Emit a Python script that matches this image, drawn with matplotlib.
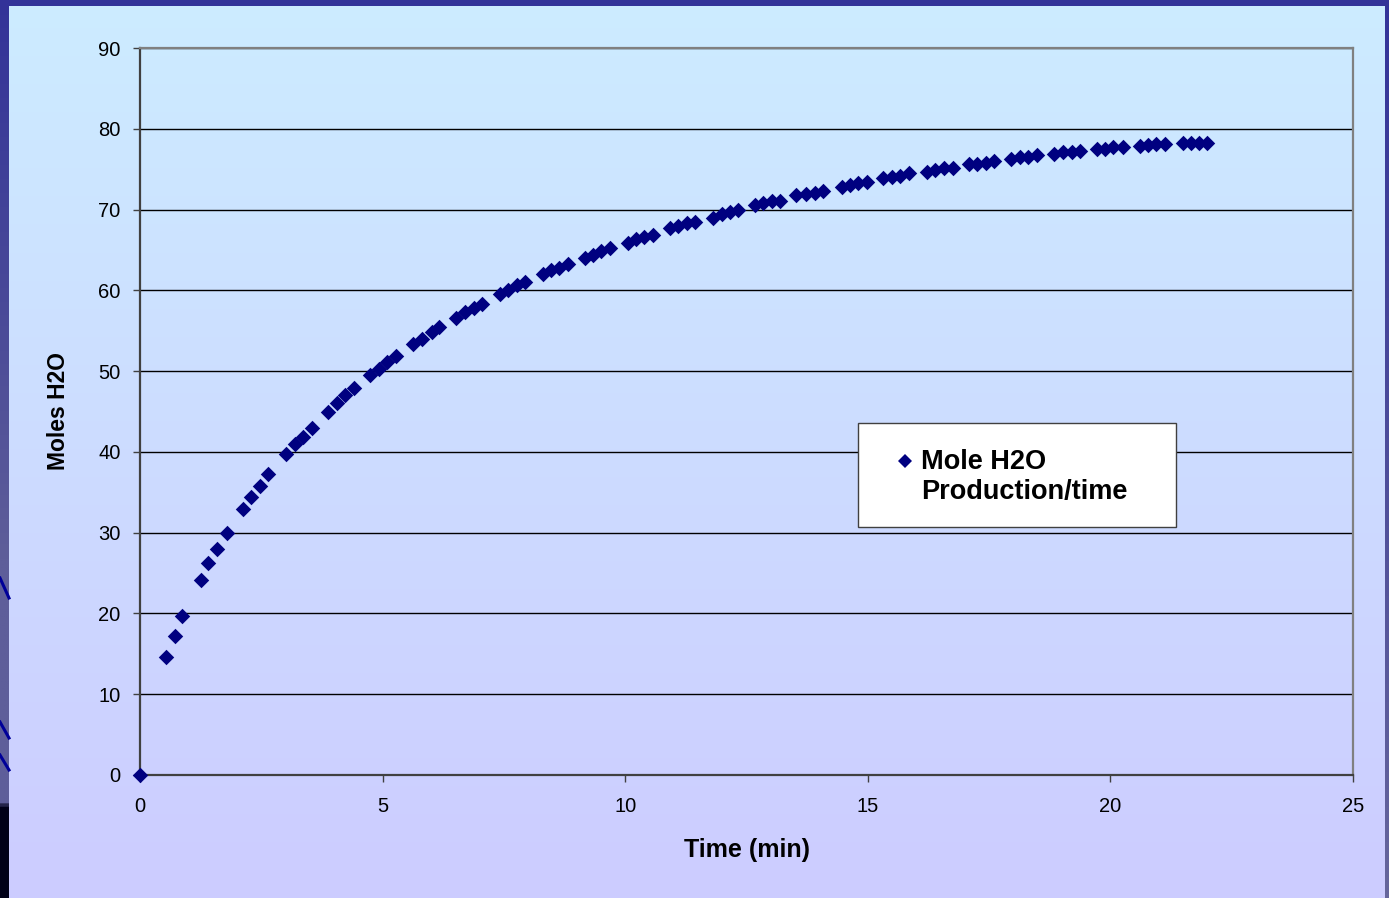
import numpy as np
import matplotlib.pyplot as plt
from matplotlib.colors import LinearSegmentedColormap
from matplotlib.lines import Line2D
from matplotlib.patches import Rectangle

plt.rcParams['font.family'] = ['Liberation Sans', 'DejaVu Sans']

# measured water production
time_min = [0.0, 0.53, 0.72, 0.87,
            1.25, 1.40, 1.59, 1.79,
            2.13, 2.28, 2.47, 2.64,
            3.00, 3.19, 3.35, 3.54,
            3.88, 4.07, 4.22, 4.41,
            4.75, 4.93, 5.10, 5.28,
            5.62, 5.82, 6.01, 6.17,
            6.51, 6.70, 6.89, 7.04,
            7.41, 7.58, 7.76, 7.93,
            8.31, 8.47, 8.64, 8.83,
            9.17, 9.33, 9.50, 9.69,
            10.05, 10.22, 10.39, 10.58,
            10.92, 11.09, 11.27, 11.44,
            11.80, 11.99, 12.15, 12.33,
            12.67, 12.85, 13.03, 13.20,
            13.53, 13.72, 13.91, 14.08,
            14.46, 14.63, 14.80, 14.98,
            15.32, 15.49, 15.66, 15.85,
            16.21, 16.38, 16.57, 16.75,
            17.09, 17.26, 17.43, 17.61,
            17.96, 18.13, 18.31, 18.49,
            18.84, 19.03, 19.20, 19.37,
            19.72, 19.89, 20.06, 20.25,
            20.60, 20.78, 20.95, 21.12,
            21.49, 21.66, 21.83, 22.00]
moles_h2o = [0.0, 14.6, 17.2, 19.7,
             24.1, 26.2, 28.0, 29.9,
             32.9, 34.4, 35.8, 37.3,
             39.7, 41.0, 41.9, 42.9,
             45.0, 46.0, 47.0, 47.9,
             49.5, 50.3, 51.1, 51.9,
             53.4, 54.0, 54.8, 55.4,
             56.6, 57.3, 57.8, 58.3,
             59.5, 60.0, 60.6, 61.0,
             62.0, 62.5, 62.8, 63.2,
             64.0, 64.4, 64.9, 65.3,
             65.8, 66.3, 66.6, 66.8,
             67.7, 68.0, 68.3, 68.5,
             69.0, 69.4, 69.7, 69.9,
             70.6, 70.8, 71.0, 71.1,
             71.8, 71.9, 72.1, 72.3,
             72.75, 73.0, 73.25, 73.45,
             73.9, 74.07, 74.2, 74.5,
             74.7, 74.9, 75.1, 75.2,
             75.6, 75.7, 75.8, 76.0,
             76.3, 76.5, 76.5, 76.7,
             76.9, 77.1, 77.1, 77.3,
             77.5, 77.5, 77.7, 77.7,
             77.9, 78.0, 78.1, 78.1,
             78.3, 78.3, 78.3, 78.3]
series_name = 'Mole H2O\nProduction/time'
x_ticks = [0, 5, 10, 15, 20, 25]
y_ticks = [0, 10, 20, 30, 40, 50, 60, 70, 80, 90]

W, H = 1389, 898
fig = plt.figure(figsize=(W / 100, H / 100), dpi=100)

# slide background: vertical cyan -> lavender gradient
bg = fig.add_axes([0, 0, 1, 1], zorder=-10)
grad = LinearSegmentedColormap.from_list('bg', ['#ccecff', '#ccccff'])
bg.imshow(np.linspace(0, 1, 256).reshape(-1, 1), cmap=grad, aspect='auto',
          extent=[0, 1, 0, 1], origin='upper')
bg.set_xlim(0, 1)
bg.set_ylim(0, 1)
bg.axis('off')

# dark slide border on the left, top and right
edge = LinearSegmentedColormap.from_list(
    'edge', [(0, '#333399'), (0.35, '#4a4a98'), (0.62, '#5e5e9a'),
             (0.895, '#5e5e9a'), (0.9, '#000018'), (1, '#000018')])
left = fig.add_axes([0, 0, 9 / W, 1], zorder=-5)
left.imshow(np.linspace(0, 1, 512).reshape(-1, 1), cmap=edge, aspect='auto',
            extent=[0, 1, 0, 1], origin='upper')
left.axis('off')
right_edge = LinearSegmentedColormap.from_list('redge', ['#333399', '#66669c'])
right = fig.add_axes([1 - 4 / W, 0, 4 / W, 1], zorder=-5)
right.imshow(np.linspace(0, 1, 256).reshape(-1, 1), cmap=right_edge,
             aspect='auto', extent=[0, 1, 0, 1], origin='upper')
right.axis('off')
top = fig.add_axes([0, 1 - 6 / H, 1, 6 / H], zorder=-5)
top.set_facecolor('#333399')
top.set_xticks([])
top.set_yticks([])
for s in top.spines.values():
    s.set_visible(False)

# diagonal strokes peeking out on the left border
for y0, y1 in [(578, 598), (722, 738), (755, 770)]:
    fig.add_artist(Line2D([0, 9 / W], [1 - y0 / H, 1 - y1 / H],
                          color='#000099', lw=2.2, zorder=-4))

ax = fig.add_axes([140 / W, 1 - 775 / H, (1353 - 140) / W, (775 - 48) / H])
ax.set_facecolor('none')
ax.scatter(time_min, moles_h2o, marker='D', s=62, color='#000080',
           linewidths=0, zorder=3, clip_on=False)

ax.set_xlim(0, 25)
ax.set_ylim(0, 90)
ax.set_xticks(x_ticks)
ax.set_yticks(y_ticks)
ax.yaxis.grid(True, color='black', lw=1.0)
ax.set_axisbelow(True)

for side in ['left', 'bottom']:
    ax.spines[side].set_color('#404040')
    ax.spines[side].set_linewidth(1.6)
for side in ['top', 'right']:
    ax.spines[side].set_color('#808080')
    ax.spines[side].set_linewidth(1.6)

ax.tick_params(axis='both', direction='out', length=5, width=1.0,
               color='#404040', labelsize=14.5, labelcolor='black')
ax.tick_params(axis='y', pad=9)
ax.tick_params(axis='x', pad=11)

ax.set_xlabel('Time (min)', fontsize=18, fontweight='bold', labelpad=16)
ax.set_ylabel('Moles H2O', fontsize=16.5, fontweight='bold', labelpad=20)

# legend box with the marker beside the first line of the label
fig.add_artist(Rectangle((858 / W, 1 - 527 / H), 318 / W, 104 / H,
                         transform=fig.transFigure, facecolor='white',
                         edgecolor='#404040', lw=1.0, zorder=5))
fig.add_artist(Line2D([905 / W], [1 - 461 / H], marker='D', ms=7,
                      color='#000080', mew=0, transform=fig.transFigure,
                      zorder=6))
fig.text(921 / W, 1 - 477 / H, series_name, fontsize=19.5,
         fontweight='bold', va='center', ha='left', linespacing=1.2,
         zorder=6)

fig.savefig('out.png', dpi=100)
